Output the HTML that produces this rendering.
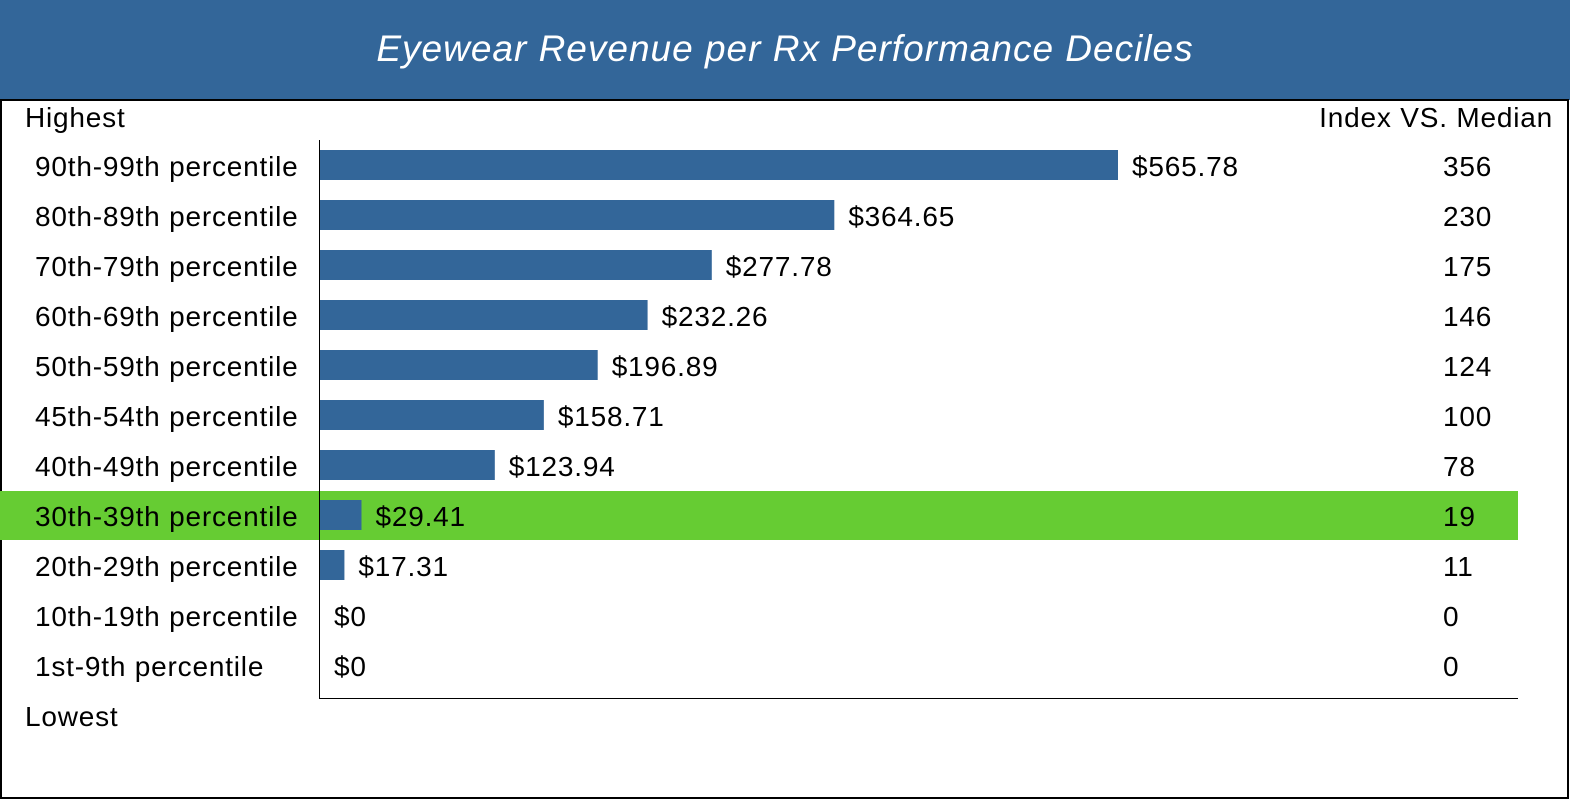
<!DOCTYPE html>
<html><head><meta charset="utf-8"><style>
html,body{margin:0;padding:0;background:#fff}
body{width:1570px;height:800px;overflow:hidden;font-family:"Liberation Sans",Arial,sans-serif}
svg text{letter-spacing:0.8px}
</style></head><body>
<svg id="chart" width="1570" height="800" xmlns="http://www.w3.org/2000/svg">
<rect x="0" y="0" width="1570" height="100" fill="#336699"/>
<text x="785" y="61" text-anchor="middle" font-size="37" font-style="italic" fill="#fff" style="letter-spacing:1px">Eyewear Revenue per Rx Performance Deciles</text>
<rect x="1" y="100" width="1567" height="698" fill="none" stroke="#000" stroke-width="2"/>
<text x="25" y="127" font-size="28" fill="#000">Highest</text>
<text x="25" y="726" font-size="28" fill="#000">Lowest</text>
<text x="1553" y="127" font-size="28" text-anchor="end" fill="#000">Index VS. Median</text>
<g id="rows"></g>
<line x1="319.5" y1="140" x2="319.5" y2="698" stroke="#000" stroke-width="1"/>
<line x1="319" y1="698.5" x2="1518" y2="698.5" stroke="#000" stroke-width="1"/>
</svg>
<script>
const categories=["90th-99th percentile","80th-89th percentile","70th-79th percentile","60th-69th percentile","50th-59th percentile","45th-54th percentile","40th-49th percentile","30th-39th percentile","20th-29th percentile","10th-19th percentile","1st-9th percentile"];
const revenue=[565.78,364.65,277.78,232.26,196.89,158.71,123.94,29.41,17.31,0,0];
const indexValues=[356,230,175,146,124,100,78,19,11,0,0];
const highlighted=["30th-39th percentile"];
const NS="http://www.w3.org/2000/svg";
const g=document.getElementById('rows');
const x0=320,scale=798/565.78;
function xPos(v){return x0+v*scale;}
function yCenter(i){return 166+i*50;}
function mk(t,a){const e=document.createElementNS(NS,t);for(const k in a)e.setAttribute(k,a[k]);g.appendChild(e);return e;}
categories.forEach((c,i)=>{
  const cy=yCenter(i);
  if(highlighted.includes(c)){
    const h=mk('rect',{x:0,y:cy-25,width:1518,height:49,fill:'#66cc33'});
    
    
  }
  const lab=mk('text',{x:35,y:cy+10,'font-size':28,fill:'#000'});lab.textContent=c;
  
  
  const v=revenue[i];
  const w=xPos(v)-x0;
  if(w>0){
    const b=mk('rect',{x:x0,y:cy-16,width:w,height:30,fill:'#336699'});
    
    
  }
  const vl=mk('text',{x:xPos(v)+14,y:cy+10,'font-size':28,fill:'#000'});
  vl.textContent='$'+(v===0?'0':v.toFixed(2));
  
  
  const il=mk('text',{x:1443,y:cy+10,'font-size':28,fill:'#000'});
  il.textContent=String(indexValues[i]);
  
  
});
</script>
</body></html>
